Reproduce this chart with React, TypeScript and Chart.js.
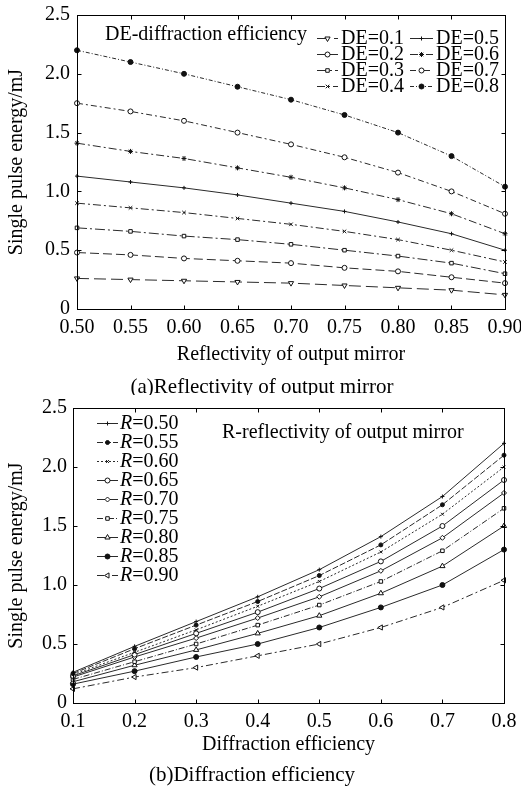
import React, { useEffect, useRef } from 'react';
import { Chart, registerables } from 'chart.js';
import { drawPoint } from 'chart.js/helpers';

Chart.register(...registerables);

const FONT = "'Liberation Serif', 'Times New Roman', Times, serif";
Chart.defaults.font.family = FONT;
Chart.defaults.color = '#000';

// ---------- data ----------
const reflectivity = [0.5, 0.55, 0.6, 0.65, 0.7, 0.75, 0.8, 0.85, 0.9];
const diffractionEfficiency = [0.1, 0.2, 0.3, 0.4, 0.5, 0.6, 0.7, 0.8];

// single pulse energy (mJ) vs reflectivity, one array per diffraction efficiency
const energyDE01 = [0.26, 0.25, 0.24, 0.23, 0.22, 0.2, 0.18, 0.16, 0.12];
const energyDE02 = [0.48, 0.46, 0.43, 0.41, 0.39, 0.35, 0.32, 0.27, 0.22];
const energyDE03 = [0.69, 0.66, 0.62, 0.59, 0.55, 0.5, 0.45, 0.39, 0.3];
const energyDE04 = [0.9, 0.86, 0.82, 0.77, 0.72, 0.66, 0.59, 0.5, 0.4];
const energyDE05 = [1.13, 1.08, 1.03, 0.97, 0.9, 0.83, 0.74, 0.64, 0.5];
const energyDE06 = [1.41, 1.34, 1.28, 1.2, 1.12, 1.03, 0.93, 0.81, 0.64];
const energyDE07 = [1.75, 1.68, 1.6, 1.5, 1.4, 1.29, 1.16, 1.0, 0.81];
const energyDE08 = [2.2, 2.1, 2.0, 1.89, 1.78, 1.65, 1.5, 1.3, 1.04];
const energyByDE = [energyDE01, energyDE02, energyDE03, energyDE04, energyDE05, energyDE06, energyDE07, energyDE08];

const yTickValues = [0, 0.5, 1.0, 1.5, 2.0, 2.5];
const deLabels = ['DE=0.1', 'DE=0.2', 'DE=0.3', 'DE=0.4', 'DE=0.5', 'DE=0.6', 'DE=0.7', 'DE=0.8'];
const rLabels = ['0.50', '0.55', '0.60', '0.65', '0.70', '0.75', '0.80', '0.85', '0.90'];

// ---------- styles ----------
type SeriesStyle = { pointStyle: string; rotation?: number; radius: number; filled: boolean; dash: number[] };

const styleA: SeriesStyle[] = [
  { pointStyle: 'triangle', rotation: 180, radius: 3, filled: false, dash: [12, 5] },
  { pointStyle: 'circle', radius: 2.5, filled: false, dash: [9, 4] },
  { pointStyle: 'rect', radius: 2.5, filled: false, dash: [10, 3, 2, 3] },
  { pointStyle: 'crossRot', radius: 2.5, filled: true, dash: [8, 3, 2, 3] },
  { pointStyle: 'cross', radius: 2, filled: true, dash: [] },
  { pointStyle: 'star', radius: 2.5, filled: true, dash: [8, 3, 2, 3] },
  { pointStyle: 'circle', radius: 2.5, filled: false, dash: [6, 3, 2, 3] },
  { pointStyle: 'circle', radius: 2.5, filled: true, dash: [4, 2, 1, 2] },
];

const styleB: SeriesStyle[] = [
  { pointStyle: 'cross', radius: 2, filled: true, dash: [] },
  { pointStyle: 'circle', radius: 2, filled: true, dash: [6, 2] },
  { pointStyle: 'crossRot', radius: 2, filled: true, dash: [2, 2] },
  { pointStyle: 'circle', radius: 2.5, filled: false, dash: [] },
  { pointStyle: 'rectRot', radius: 2.5, filled: false, dash: [] },
  { pointStyle: 'rect', radius: 2.5, filled: false, dash: [6, 2, 1, 2] },
  { pointStyle: 'triangle', radius: 3, filled: false, dash: [] },
  { pointStyle: 'circle', radius: 2.5, filled: true, dash: [] },
  { pointStyle: 'triangle', rotation: -90, radius: 3, filled: false, dash: [7, 3, 2, 3] },
];

function makeDataset(label: string, points: { x: number; y: number }[], s: SeriesStyle) {
  return {
    label,
    data: points,
    borderColor: '#2a2a2a',
    borderWidth: 1,
    borderDash: s.dash,
    pointStyle: s.pointStyle,
    pointRotation: s.rotation || 0,
    pointRadius: s.radius,
    pointBorderWidth: 1,
    pointBorderColor: '#111',
    pointBackgroundColor: s.filled ? '#111' : '#fff',
    tension: 0,
    fill: false,
    clip: false as any,
  };
}

const datasetsA = deLabels.map((lab, i) =>
  makeDataset(lab, reflectivity.map((r, j) => ({ x: r, y: energyByDE[i][j] })), styleA[i])
);
const datasetsB = rLabels.map((lab, j) =>
  makeDataset('R=' + lab, diffractionEfficiency.map((d, i) => ({ x: d, y: energyByDE[i][j] })), styleB[j])
);

// ---------- decoration plugin ----------
type DecorCfg = {
  x0: number[];
  x1: number[];
  tx: number[];
  rowY0: number;
  rowStep: number;
  rowsPerCol: number;
  italicR: boolean;
  note: { text: string; x: number; y: number };
  caption: { text: string; x: number; y: number };
};

function makeDecor(cfg: DecorCfg) {
  return {
    id: 'paperDecor',
    afterDraw(chart: any) {
      const ctx: CanvasRenderingContext2D = chart.ctx;
      const { left, top, right, bottom } = chart.chartArea;
      ctx.save();
      ctx.strokeStyle = '#000';
      ctx.lineWidth = 1;
      ctx.setLineDash([]);
      const L = Math.round(left) + 0.5;
      const T = Math.round(top) + 0.5;
      const R = Math.round(right) + 0.5;
      const B = Math.round(bottom) + 0.5;
      ctx.strokeRect(L, T, R - L, B - T);
      // inward ticks
      const xs = chart.scales.x;
      const ys = chart.scales.y;
      ctx.beginPath();
      xs.ticks.forEach((t: any) => {
        const px = Math.round(xs.getPixelForValue(t.value)) + 0.5;
        ctx.moveTo(px, B);
        ctx.lineTo(px, B - 4);
        ctx.moveTo(px, T);
        ctx.lineTo(px, T + 4);
      });
      ys.ticks.forEach((t: any) => {
        const py = Math.round(ys.getPixelForValue(t.value)) + 0.5;
        ctx.moveTo(L, py);
        ctx.lineTo(L + 4, py);
        ctx.moveTo(R, py);
        ctx.lineTo(R - 4, py);
      });
      ctx.stroke();

      // legend
      const font = `20px ${FONT}`;
      const ifont = `italic 20px ${FONT}`;
      ctx.textBaseline = 'middle';
      ctx.textAlign = 'left';
      chart.data.datasets.forEach((ds: any, i: number) => {
        const col = Math.floor(i / cfg.rowsPerCol);
        const row = i % cfg.rowsPerCol;
        const y = Math.round(cfg.rowY0 + row * cfg.rowStep) + 0.5;
        ctx.strokeStyle = ds.borderColor;
        ctx.lineWidth = 1;
        ctx.setLineDash(ds.borderDash || []);
        ctx.beginPath();
        ctx.moveTo(cfg.x0[col], y);
        ctx.lineTo(cfg.x1[col], y);
        ctx.stroke();
        ctx.setLineDash([]);
        ctx.fillStyle = ds.pointBackgroundColor;
        ctx.strokeStyle = ds.pointBorderColor;
        drawPoint(ctx, {
          pointStyle: ds.pointStyle,
          rotation: ds.pointRotation || 0,
          radius: ds.pointRadius,
          borderWidth: 1,
        } as any, (cfg.x0[col] + cfg.x1[col]) / 2, y);
        ctx.fillStyle = '#000';
        let tx = cfg.tx[col];
        let label: string = ds.label;
        if (cfg.italicR && label.startsWith('R')) {
          ctx.font = ifont;
          ctx.fillText('R', tx, y);
          tx += ctx.measureText('R').width;
          label = label.slice(1);
        }
        ctx.font = font;
        ctx.fillText(label, tx, y);
      });

      // note
      ctx.font = font;
      ctx.fillStyle = '#000';
      ctx.textAlign = 'left';
      ctx.fillText(cfg.note.text, cfg.note.x, cfg.note.y);
      // caption
      ctx.font = `21px ${FONT}`;
      ctx.textAlign = 'center';
      ctx.fillText(cfg.caption.text, cfg.caption.x, cfg.caption.y);
      ctx.restore();
    },
  };
}

function makeConfig(opts: {
  datasets: any[];
  xMin: number;
  xMax: number;
  xTicks: number[];
  xDigits: number;
  xTitle: string;
  xTitlePad: number;
  xHeight: number;
  yWidth: number;
  yLabelPad: number;
  padding: { left: number; top: number; right: number; bottom: number };
  decor: DecorCfg;
}) {
  return {
    type: 'line' as const,
    data: { datasets: opts.datasets },
    options: {
      animation: false as const,
      responsive: false,
      devicePixelRatio: 1,
      layout: { padding: opts.padding },
      plugins: { legend: { display: false }, tooltip: { enabled: false } },
      scales: {
        x: {
          type: 'linear' as const,
          min: opts.xMin,
          max: opts.xMax,
          afterBuildTicks: (s: any) => {
            s.ticks = opts.xTicks.map((v) => ({ value: v }));
          },
          afterFit: (s: any) => {
            s.height = opts.xHeight;
            s.paddingLeft = 0;
            s.paddingRight = 0;
          },
          ticks: {
            autoSkip: false,
            maxRotation: 0,
            padding: 7,
            color: '#000',
            font: { size: 20, family: FONT },
            callback: (v: any) => Number(v).toFixed(opts.xDigits),
          },
          grid: { display: false, drawTicks: false },
          border: { display: false },
          title: {
            display: true,
            text: opts.xTitle,
            color: '#000',
            font: { size: 20, family: FONT },
            padding: { top: 0, bottom: opts.xTitlePad },
          },
        },
        y: {
          type: 'linear' as const,
          min: 0,
          max: 2.5,
          afterBuildTicks: (s: any) => {
            s.ticks = yTickValues.map((v) => ({ value: v }));
          },
          afterFit: (s: any) => {
            s.width = opts.yWidth;
            s.paddingTop = 0;
            s.paddingBottom = 0;
          },
          ticks: {
            padding: opts.yLabelPad,
            color: '#000',
            font: { size: 20, family: FONT },
            callback: (v: any) => (Number(v) === 0 ? '0' : Number(v).toFixed(1)),
          },
          grid: { display: false, drawTicks: false },
          border: { display: false },
          title: {
            display: true,
            text: 'Single pulse energy/mJ',
            color: '#000',
            font: { size: 20, family: FONT },
            padding: { top: 5, bottom: 0 },
          },
        },
      },
    },
    plugins: [makeDecor(opts.decor)],
  };
}

function ChartCanvas({ config, top }: { config: any; top: number }) {
  const ref = useRef<HTMLCanvasElement | null>(null);
  useEffect(() => {
    if (!ref.current) return;
    const chart = new Chart(ref.current, config);
    return () => chart.destroy();
  }, [config]);
  return (
    <canvas
      ref={ref}
      width={521}
      height={395}
      style={{ position: 'absolute', left: 0, top, width: 521, height: 395, display: 'block' }}
    />
  );
}

const configA = makeConfig({
  datasets: datasetsA,
  xMin: 0.5,
  xMax: 0.9,
  xTicks: reflectivity,
  xDigits: 2,
  xTitle: 'Reflectivity of output mirror',
  xTitlePad: 28,
  xHeight: 86,
  yWidth: 77,
  yLabelPad: 7,
  padding: { left: 0, top: 15, right: 16, bottom: 0 },
  decor: {
    x0: [317, 410],
    x1: [338, 433],
    tx: [341, 436],
    rowY0: 38,
    rowStep: 16,
    rowsPerCol: 4,
    italicR: false,
    note: { text: 'DE-diffraction efficiency', x: 105, y: 35 },
    caption: { text: '(a)Reflectivity of output mirror', x: 262, y: 387 },
  },
});

const configB = makeConfig({
  datasets: datasetsB,
  xMin: 0.1,
  xMax: 0.8,
  xTicks: diffractionEfficiency,
  xDigits: 1,
  xTitle: 'Diffraction efficiency',
  xTitlePad: 33,
  xHeight: 87,
  yWidth: 73,
  yLabelPad: 6,
  padding: { left: 0, top: 13, right: 17, bottom: 0 },
  decor: {
    x0: [97],
    x1: [118],
    tx: [120],
    rowY0: 28,
    rowStep: 19,
    rowsPerCol: 9,
    italicR: true,
    note: { text: 'R-reflectivity of output mirror', x: 222, y: 38 },
    caption: { text: '(b)Diffraction efficiency', x: 252, y: 380 },
  },
});

export default function App() {
  return (
    <div style={{ position: 'absolute', left: 0, top: 0, width: 521, height: 790, background: '#fff' }}>
      <ChartCanvas config={configA} top={0} />
      <ChartCanvas config={configB} top={395} />
    </div>
  );
}
